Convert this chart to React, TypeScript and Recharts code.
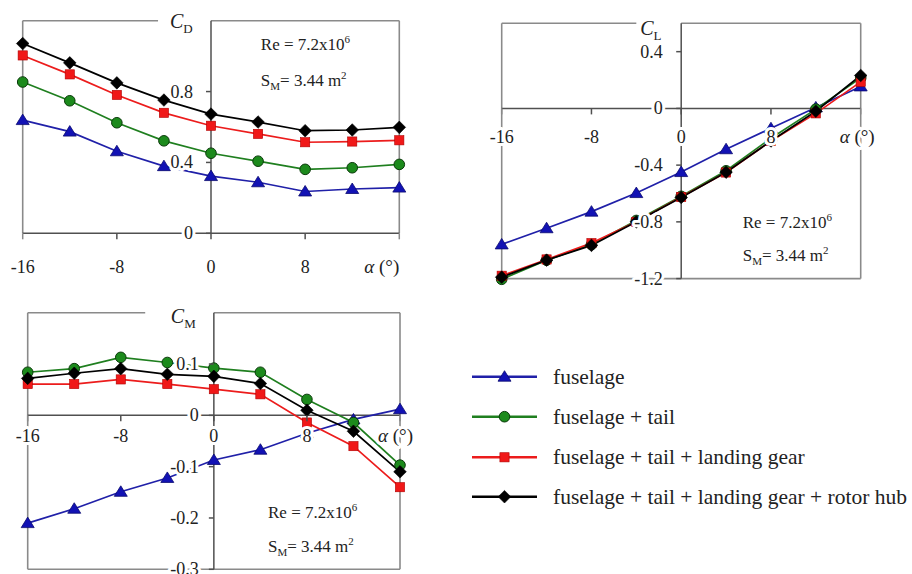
import React from 'react';
import { LineChart, Line, XAxis, YAxis, ReferenceLine, ReferenceDot } from 'recharts';

// ---------- data ----------
const ALPHA = [-16, -12, -8, -4, 0, 4, 8, 12, 16];

const SERIES_NAMES = [
  'fuselage',
  'fuselage + tail',
  'fuselage + tail + landing gear',
  'fuselage + tail + landing gear + rotor hub',
];

const CD_FUSELAGE = [0.639, 0.574, 0.463, 0.379, 0.323, 0.288, 0.236, 0.25, 0.258];
const CD_TAIL = [0.854, 0.748, 0.624, 0.522, 0.452, 0.407, 0.361, 0.37, 0.389];
const CD_GEAR = [1.004, 0.897, 0.781, 0.68, 0.607, 0.561, 0.514, 0.518, 0.525];
const CD_HUB = [1.071, 0.962, 0.849, 0.752, 0.673, 0.628, 0.579, 0.583, 0.598];

const CL_FUSELAGE = [-0.959, -0.845, -0.728, -0.597, -0.449, -0.288, -0.14, 0.007, 0.155];
const CL_TAIL = [-1.205, -1.07, -0.96, -0.79, -0.62, -0.44, -0.21, -0.005, 0.215];
const CL_GEAR = [-1.18, -1.065, -0.95, -0.8, -0.625, -0.452, -0.23, -0.035, 0.187];
const CL_HUB = [-1.19, -1.07, -0.966, -0.8, -0.628, -0.45, -0.23, -0.02, 0.232];

const CM_FUSELAGE = [-0.21, -0.182, -0.149, -0.122, -0.087, -0.067, -0.035, -0.008, 0.012];
const CM_TAIL = [0.084, 0.091, 0.113, 0.103, 0.092, 0.084, 0.031, -0.014, -0.097];
const CM_GEAR = [0.061, 0.061, 0.07, 0.061, 0.051, 0.041, -0.014, -0.06, -0.14];
const CM_HUB = [0.072, 0.082, 0.091, 0.08, 0.076, 0.062, 0.01, -0.031, -0.11];

const X_TICKS = [-16, -8, 0, 8];
const X_TICK_MARKS = [-16, -8, 0, 8, 16];
const CD_Y_TICKS = [0, 0.4, 0.8];
const CL_Y_TICKS = [0.4, 0, -0.4, -0.8, -1.2];
const CM_Y_TICKS = [0.1, 0, -0.1, -0.2, -0.3];

// ---------- styles ----------
const FONT = '"Liberation Serif", "Times New Roman", serif';
const FRAME = '#8a8a8a';
const AXIS = '#505050';

type Marker = 'triangle' | 'circle' | 'square' | 'diamond';
const STYLES: { color: string; fill: string; edge: string; marker: Marker }[] = [
  { color: '#2020a8', fill: '#1212b4', edge: '#0a0a70', marker: 'triangle' },
  { color: '#1f7f1f', fill: '#1c8a1c', edge: '#0a3a0a', marker: 'circle' },
  { color: '#ec1c1c', fill: '#f01818', edge: '#b00000', marker: 'square' },
  { color: '#000000', fill: '#000000', edge: '#000000', marker: 'diamond' },
];

function drawMarker(kind: Marker, cx: number, cy: number, fill: string, edge: string, key?: string) {
  if (kind === 'triangle')
    return <polygon key={key} points={`${cx},${cy - 6} ${cx - 6.5},${cy + 4.5} ${cx + 6.5},${cy + 4.5}`} fill={fill} stroke={edge} strokeWidth={0.8} />;
  if (kind === 'circle') return <circle key={key} cx={cx} cy={cy} r={5.3} fill={fill} stroke={edge} strokeWidth={1} />;
  if (kind === 'square') return <rect key={key} x={cx - 4.6} y={cy - 4.6} width={9.2} height={9.2} fill={fill} stroke={edge} strokeWidth={0.6} />;
  return <polygon key={key} points={`${cx},${cy - 6.3} ${cx + 6.3},${cy} ${cx},${cy + 6.3} ${cx - 6.3},${cy}`} fill={fill} stroke={edge} strokeWidth={0.6} />;
}

const halo = { paintOrder: 'stroke' as const, stroke: '#fff', strokeWidth: 6, strokeLinejoin: 'round' as const };

type PanelCfg = {
  left: number; top: number; width: number; height: number;
  margin: { top: number; right: number; bottom: number; left: number };
  yDomain: [number, number];
  yTicks: number[];
  gapX: number;
  sub: string;
  titleDx: number; titleDy: number;
  xLabelDy: number; alphaDx: number; yLabelDx: number;
  annAt: { x: number; y: number }; annDx: number; annDy1: number; annDy2: number;
  series: number[][];
};

function Panel({ cfg }: { cfg: PanelCfg }) {
  const [y0, y1] = cfg.yDomain;
  const rows = ALPHA.map((a, i) => ({ a, s0: cfg.series[0][i], s1: cfg.series[1][i], s2: cfg.series[2][i], s3: cfg.series[3][i] }));
  return (
    <div style={{ position: 'absolute', left: cfg.left, top: cfg.top }}>
      <LineChart width={cfg.width} height={cfg.height} data={rows} margin={cfg.margin}>
        <XAxis hide type="number" dataKey="a" domain={[-16, 16]} />
        <YAxis hide type="number" domain={cfg.yDomain} />
        {/* frame */}
        <ReferenceLine segment={[{ x: -16, y: y1 }, { x: cfg.gapX, y: y1 }]} stroke={FRAME} strokeWidth={1.6} ifOverflow="visible" />
        <ReferenceLine segment={[{ x: 0, y: y1 }, { x: 16, y: y1 }]} stroke={FRAME} strokeWidth={1.6} ifOverflow="visible" />
        <ReferenceLine segment={[{ x: -16, y: y0 }, { x: -16, y: y1 }]} stroke={FRAME} strokeWidth={1.6} ifOverflow="visible" />
        <ReferenceLine segment={[{ x: 16, y: y0 }, { x: 16, y: y1 }]} stroke={FRAME} strokeWidth={1.6} ifOverflow="visible" />
        {y0 < 0 && <ReferenceLine segment={[{ x: -16, y: y0 }, { x: 16, y: y0 }]} stroke={FRAME} strokeWidth={1.6} ifOverflow="visible" />}
        {/* axes */}
        <ReferenceLine segment={[{ x: -16, y: 0 }, { x: 16, y: 0 }]} stroke={AXIS} strokeWidth={1.5} ifOverflow="visible" />
        <ReferenceLine segment={[{ x: 0, y: y0 }, { x: 0, y: y1 }]} stroke={AXIS} strokeWidth={1.5} ifOverflow="visible" />
        {STYLES.map((st, i) => (
          <Line
            key={`s${i}`}
            type="linear"
            dataKey={`s${i}`}
            name={SERIES_NAMES[i]}
            stroke={st.color}
            strokeWidth={1.7}
            isAnimationActive={false}
            dot={(p: any) => drawMarker(st.marker, p.cx, p.cy, st.fill, st.edge, `d${i}-${p.index}`)}
            activeDot={false}
          />
        ))}
        {X_TICK_MARKS.map((t) => (
          <ReferenceDot key={`xm${t}`} x={t} y={0} r={0} ifOverflow="visible" zIndex={2000}
            shape={(p: any) => <line x1={p.cx} y1={p.cy} x2={p.cx} y2={p.cy + 6} stroke={t === -16 || t === 16 ? FRAME : AXIS} strokeWidth={1.5} />} />
        ))}
        {X_TICKS.map((t) => (
          <ReferenceDot key={`xl${t}`} x={t} y={0} r={0} ifOverflow="visible" zIndex={2100}
            shape={(p: any) => (
              <text x={p.cx} y={p.cy + cfg.xLabelDy} textAnchor="middle" fontFamily={FONT} fontSize={18} fill="#222" {...halo}>{String(t)}</text>
            )} />
        ))}
        <ReferenceDot x={16} y={0} r={0} ifOverflow="visible" zIndex={2100}
          shape={(p: any) => (
            <text x={p.cx + cfg.alphaDx} y={p.cy + cfg.xLabelDy} fontFamily={FONT} fontSize={19} fill="#222" {...halo}>
              <tspan fontStyle="italic">α</tspan> (°)
            </text>
          )} />
        {cfg.yTicks.map((v) => (
          <ReferenceDot key={`yl${v}`} x={0} y={v} r={0} ifOverflow="visible" zIndex={2100}
            shape={(p: any) => (
              <g>
                <line x1={p.cx - 5} y1={p.cy} x2={p.cx} y2={p.cy} stroke={AXIS} strokeWidth={1.5} />
                <text x={p.cx + cfg.yLabelDx} y={p.cy + 6} textAnchor="end" fontFamily={FONT} fontSize={18} fill="#222" {...halo}>{String(v)}</text>
              </g>
            )} />
        ))}
        <ReferenceDot x={0} y={y1} r={0} ifOverflow="visible" zIndex={2100}
          shape={(p: any) => (
            <text x={p.cx + cfg.titleDx} y={p.cy + cfg.titleDy} fontFamily={FONT} fontSize={20} fill="#222">
              <tspan fontStyle="italic">C</tspan>
              <tspan fontSize={13} dy={5}>{cfg.sub}</tspan>
            </text>
          )} />
        <ReferenceDot x={cfg.annAt.x} y={cfg.annAt.y} r={0} ifOverflow="visible" zIndex={2100}
          shape={(p: any) => (
            <g fontFamily={FONT} fontSize={17} fill="#222">
              <text x={p.cx + cfg.annDx} y={p.cy + cfg.annDy1}>
                Re = 7.2x10<tspan fontSize={11} dy={-7}>6</tspan>
              </text>
              <text x={p.cx + cfg.annDx} y={p.cy + cfg.annDy2}>
                S<tspan fontSize={11} dy={4}>M</tspan><tspan dy={-4}>= 3.44 m</tspan><tspan fontSize={11} dy={-7}>2</tspan>
              </text>
            </g>
          )} />
      </LineChart>
    </div>
  );
}

const CD_CFG: PanelCfg = {
  left: 0, top: 0, width: 420, height: 290,
  margin: { top: 20.7, right: 20.7, bottom: 56.7, left: 22.7 },
  yDomain: [0, 1.2], yTicks: CD_Y_TICKS, gapX: -4.5, sub: 'D',
  titleDx: -41, titleDy: 7.6, xLabelDy: 39.5, alphaDx: -35, yLabelDx: -18,
  annAt: { x: 16, y: 1.2 }, annDx: -138.5, annDy1: 29.3, annDy2: 65.3,
  series: [CD_FUSELAGE, CD_TAIL, CD_GEAR, CD_HUB],
};

const CL_CFG: PanelCfg = {
  left: 450, top: 0, width: 460, height: 300,
  margin: { top: 23.3, right: 49.3, bottom: 20.7, left: 51.7 },
  yDomain: [-1.2, 0.6], yTicks: CL_Y_TICKS, gapX: -4, sub: 'L',
  titleDx: -41, titleDy: 11.7, xLabelDy: 34.4, alphaDx: -21, yLabelDx: -18.4,
  annAt: { x: 16, y: -1.2 }, annDx: -118, annDy1: -51, annDy2: -17.6,
  series: [CL_FUSELAGE, CL_TAIL, CL_GEAR, CL_HUB],
};

const CM_CFG: PanelCfg = {
  left: 0, top: 290, width: 430, height: 284,
  margin: { top: 22.7, right: 30, bottom: 4.7, left: 27.7 },
  yDomain: [-0.3, 0.2], yTicks: CM_Y_TICKS, gapX: -5.9, sub: 'M',
  titleDx: -43, titleDy: 10.6, xLabelDy: 26.7, alphaDx: -22, yLabelDx: -15,
  annAt: { x: 16, y: -0.3 }, annDx: -132, annDy1: -51, annDy2: -17.6,
  series: [CM_FUSELAGE, CM_TAIL, CM_GEAR, CM_HUB],
};

const LEGEND_ROWS_Y = [376.7, 416.7, 457.3, 496.7];

function SeriesLegend() {
  return (
    <svg style={{ position: 'absolute', left: 0, top: 0 }} width={912} height={574}>
      {SERIES_NAMES.map((name, i) => {
        const st = STYLES[i];
        const y = LEGEND_ROWS_Y[i];
        return (
          <g key={name}>
            <line x1={472} y1={y} x2={537} y2={y} stroke={st.color} strokeWidth={2.5} />
            {drawMarker(st.marker, 504.5, y, st.fill, st.edge)}
            <text x={553} y={y + 7} fontFamily={FONT} fontSize={21.5} fill="#222" style={{ whiteSpace: 'pre' }}>{name}</text>
          </g>
        );
      })}
    </svg>
  );
}

export default function App() {
  return (
    <div style={{ position: 'absolute', left: 0, top: 0, width: 912, height: 574, background: '#fff', overflow: 'hidden' }}>
      <SeriesLegend />
      <Panel cfg={CD_CFG} />
      <Panel cfg={CL_CFG} />
      <Panel cfg={CM_CFG} />
    </div>
  );
}
